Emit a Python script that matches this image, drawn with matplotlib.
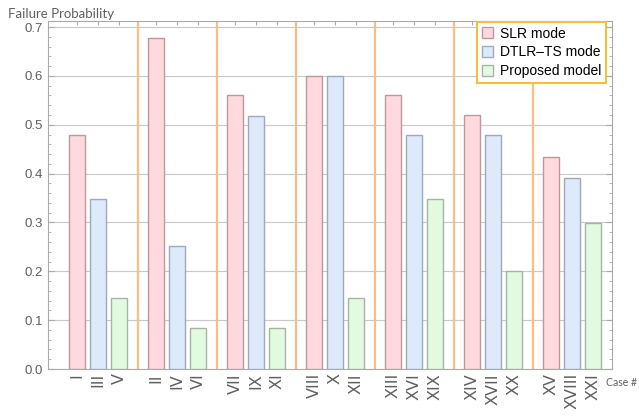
import numpy as np
import matplotlib.pyplot as plt
from matplotlib.ticker import MultipleLocator

# values
slr = [0.48, 0.677, 0.56, 0.60, 0.56, 0.52, 0.435]
dtlr = [0.348, 0.252, 0.518, 0.60, 0.48, 0.48, 0.391]
proposed = [0.145, 0.083, 0.083, 0.145, 0.348, 0.20, 0.298]
case_labels = [['I', 'III', 'V'], ['II', 'IV', 'VI'], ['VII', 'IX', 'XI'],
               ['VIII', 'X', 'XII'], ['XIII', 'XVI', 'XIX'],
               ['XIV', 'XVII', 'XX'], ['XV', 'XVIII', 'XXI']]
series_names = ['SLR mode', 'DTLR\u2013TS mode', 'Proposed model']

fill_colors = ['#FFD9DD', '#DCEAFB', '#E2FBE0']
edge_colors = ['#B89A9C', '#9DAABB', '#A5B5A3']
txt_gray = '#5f5f5f'

fig = plt.figure(figsize=(6.39, 4.16), dpi=100)
ax = fig.add_axes([48/639, 1-369/416, (612-48)/639, (369-20.7)/416])

groups = np.arange(len(slr))
offset = 0.266
width = 0.2
positions = []
labels = []
for k, vals in enumerate([slr, dtlr, proposed]):
    ax.bar(groups + (k-1)*offset, vals, width, color=fill_colors[k],
           edgecolor=edge_colors[k], linewidth=1.0, label=series_names[k], zorder=3)
for g in groups:
    for k in range(3):
        positions.append(g + (k-1)*offset)
        labels.append(case_labels[g][k])

for g in groups[:-1]:
    ax.axvline(g + 0.5, color='#F9BE82', lw=1.6, zorder=2)

ax.set_xlim(-0.633, 6.506)
ax.set_ylim(0, 0.713)
ax.yaxis.set_major_locator(MultipleLocator(0.1))
ax.yaxis.set_minor_locator(MultipleLocator(0.02))
ax.grid(axis='y', color='#C8C8C8', lw=0.8, zorder=1)
ax.set_axisbelow(True)

ax.set_xticks(positions)
ax.set_xticklabels(labels, rotation=90, fontsize=11.5, color=txt_gray,
                   va='top', ha='center')
ax.tick_params(axis='x', direction='in', length=3, top=True, pad=3,
               color='#aaaaaa')
ax.tick_params(axis='y', which='both', direction='in', right=True,
               labelsize=9.5, labelcolor=txt_gray, color='#aaaaaa')
ax.tick_params(axis='y', which='major', length=4)
ax.tick_params(axis='y', which='minor', length=2)
for t in ax.get_yticklabels():
    t.set_family('Liberation Sans')
ax.yaxis.set_major_formatter(plt.FuncFormatter(lambda v, p: f'{v:.1f}'))
for s in ax.spines.values():
    s.set_color('#aaaaaa')
    s.set_linewidth(0.8)

leg = ax.legend(loc='upper right', bbox_to_anchor=(0.99, 0.997),
                borderaxespad=0, framealpha=1, fancybox=False,
                prop={'family': 'Liberation Sans', 'size': 10},
                handlelength=0.8, handleheight=0.8, handletextpad=0.5,
                borderpad=0.35, labelspacing=0.35)
leg.get_frame().set_edgecolor('#F2C13A')
leg.get_frame().set_linewidth(1.5)
leg.set_zorder(5)

fig.text(8/639, 1-14/416, 'Failure Probability', fontsize=9.5, color=txt_gray,
         va='center', ha='left', family='Lato')
fig.text(606/639, 1-383/416, 'Case #', fontsize=7.6, color=txt_gray,
         va='center', ha='left', family='Lato')

fig.savefig('out.png', dpi=100)
